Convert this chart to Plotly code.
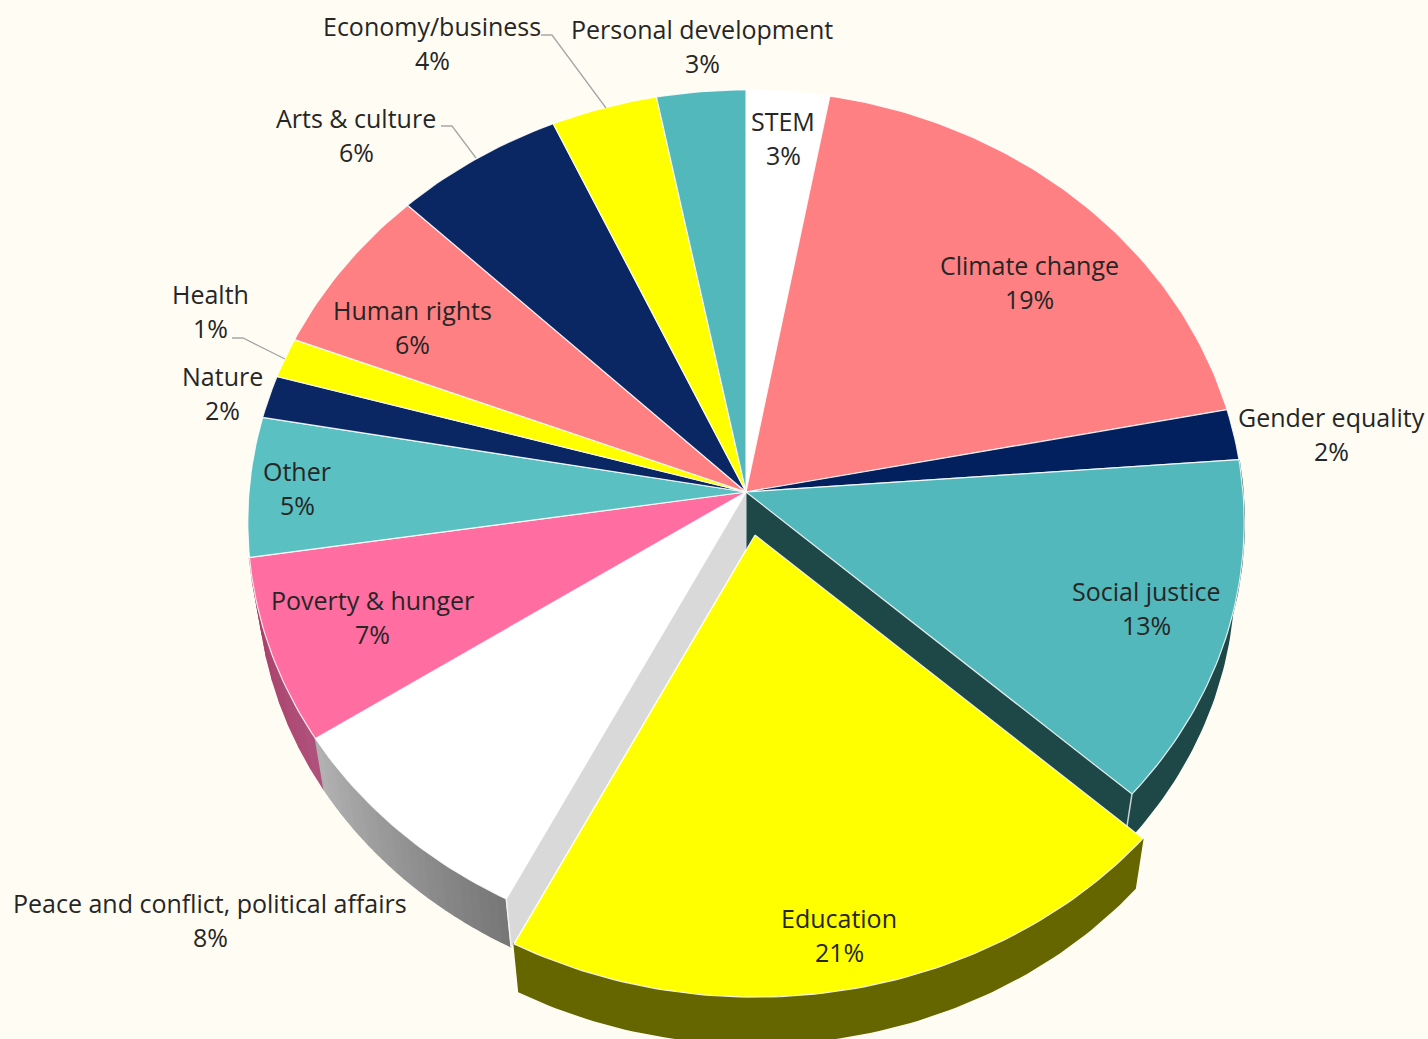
import math
import plotly.graph_objects as go

# ---- data ----
categories = ["STEM", "Climate change", "Gender equality", "Social justice", "Education",
              "Peace and conflict, political affairs", "Poverty & hunger", "Other", "Nature",
              "Health", "Human rights", "Arts & culture", "Economy/business", "Personal development"]
# printed percentages
percent_labels = [3, 19, 2, 13, 21, 8, 7, 5, 2, 1, 6, 6, 4, 3]
# slice shares as measured from the drawn wedges (unrounded estimates)
shares = [2.9, 19.0, 1.9, 12.9, 20.8, 8.2, 6.9, 5.2, 1.6, 1.5, 6.4, 5.9, 3.7, 3.1]

# ---- styles ----
colors = ["#FFFFFF", "#FF8082", "#021F5E", "#52B8BB", "#FFFF00", "#FFFFFF", "#FF6DA1",
          "#5AC0C2", "#0A2663", "#FFFF00", "#FF8082", "#0A2663", "#FFFF00", "#52B8BB"]
BG = "#FFFDF3"
TEXT = "#262626"
FONT = "Open Sans"
FS = 25
LINE = "rgba(255,255,255,0.85)"

# ---- layout geometry ----
W, H = 1428, 1039
CX, CY, RX, RY, KY, KX = 746, 492, 497, 431, 0.067, 0.07
PULL_DX, PULL_DY, PULL_SCALE = 9, 43, 1.005
WALL_SCALE, WALL_DROP = 0.98, 56
EDU, PEACE, POV, SOC = 4, 5, 6, 3

# label centre positions (name line, percent line), screen pixels
label_xy = [(783, 121), (1029, 265), (1331, 417), (1146, 591), (839, 918), (210, 903), (372, 600),
            (297, 471), (222, 376), (210, 294), (412, 310), (356, 118), (432, 26), (702, 29)]
LINE_GAP = 34
leaders = [[(541, 35), (552, 35), (606, 108)],
           [(441, 126), (452, 126), (476, 158)],
           [(232, 338), (243, 338), (285, 359)]]


def project(cum, cx=CX, cy=CY, scale=1.0):
    t = 2 * math.pi * cum / sum(shares)
    c = math.cos(t)
    return (cx + scale * RX * math.sin(t) * (1 - KX * c),
            cy - scale * RY * c * (1 - KY * c))


def arc(a, b, **kw):
    n = max(3, int((b - a) * 4))
    return [project(a + (b - a) * i / n, **kw) for i in range(n + 1)]


def drop(p, cx=CX, cy=CY):
    return cx + WALL_SCALE * (p[0] - cx), cy + WALL_SCALE * (p[1] - cy) + WALL_DROP


def poly(fig, pts, fill, line=None, width=1):
    fig.add_trace(go.Scatter(
        x=[p[0] for p in pts] + [pts[0][0]], y=[p[1] for p in pts] + [pts[0][1]],
        mode="lines", fill="toself", fillcolor=fill,
        line=dict(color=line or fill, width=width), hoverinfo="skip", showlegend=False))


def lerp(c1, c2, f):
    v = [round(c1[i] + (c2[i] - c1[i]) * f) for i in range(3)]
    return f"rgb({v[0]},{v[1]},{v[2]})"


def wall(fig, a, b, c1, c2, steps, **kw):
    cx, cy = kw.get("cx", CX), kw.get("cy", CY)
    for i in range(steps):
        s0, s1 = a + (b - a) * i / steps, a + (b - a) * (i + 1) / steps
        top = arc(s0, s1, **kw)
        bottom = [drop(p, cx, cy) for p in top]
        col = lerp(c1, c2, (i + 0.5) / steps)
        poly(fig, top + bottom[::-1], col, col, 1.5)


starts = [sum(shares[:i]) for i in range(len(shares))]
ends = [sum(shares[:i + 1]) for i in range(len(shares))]
pull = dict(cx=CX + PULL_DX, cy=CY + PULL_DY, scale=PULL_SCALE)

fig = go.Figure()

# side walls
wall(fig, starts[POV], ends[POV], (176, 82, 124), (168, 62, 104), 8)
wall(fig, starts[PEACE], ends[PEACE], (118, 118, 118), (178, 178, 178), 24)
wall(fig, starts[SOC], ends[SOC], (30, 72, 72), (30, 72, 72), 1)

# radial cut faces seen through the gap left by the pulled slice
soc_end = project(ends[SOC])
poly(fig, [(CX, CY), soc_end, drop(soc_end), drop((CX, CY))], "#1E4848")
peace_start = project(starts[PEACE])
poly(fig, [(CX, CY), peace_start, drop(peace_start), drop((CX, CY))], "#D9D9D9")
# corner highlights
fig.add_trace(go.Scatter(x=[soc_end[0], drop(soc_end)[0]], y=[soc_end[1], drop(soc_end)[1]], mode="lines",
                         line=dict(color="#C8D4D4", width=1.5), hoverinfo="skip", showlegend=False))
fig.add_trace(go.Scatter(x=[peace_start[0], drop(peace_start)[0]], y=[peace_start[1], drop(peace_start)[1]],
                         mode="lines", line=dict(color="#F2F2F2", width=1.5), hoverinfo="skip", showlegend=False))

# top faces of the slices that stay in place
for i, name in enumerate(categories):
    if i == EDU:
        continue
    poly(fig, [(CX, CY)] + arc(starts[i], ends[i]), colors[i], LINE, 1.2)

# pulled slice with its wall
wall(fig, starts[EDU], ends[EDU], (102, 102, 0), (102, 102, 0), 1, **pull)
poly(fig, [(pull["cx"], pull["cy"])] + arc(starts[EDU], ends[EDU], **pull), colors[EDU], LINE, 1.2)

# leader lines
for seg in leaders:
    fig.add_trace(go.Scatter(x=[p[0] for p in seg], y=[p[1] for p in seg], mode="lines",
                             line=dict(color="#A6A6A6", width=1.3), hoverinfo="skip", showlegend=False))

# labels
for name, pct, (x, y) in zip(categories, percent_labels, label_xy):
    for txt, yy in ((name, y), (f"{pct}%", y + LINE_GAP)):
        fig.add_annotation(x=x, y=yy, xref="x", yref="y", text=txt, showarrow=False,
                           xanchor="center", yanchor="middle",
                           font=dict(family=FONT, size=FS, color=TEXT))

fig.update_layout(
    width=W, height=H, margin=dict(l=0, r=0, t=0, b=0),
    paper_bgcolor=BG, plot_bgcolor=BG, showlegend=False,
    xaxis=dict(range=[0, W], visible=False, fixedrange=True),
    yaxis=dict(range=[H, 0], visible=False, fixedrange=True),
)
fig.write_html("out.html", config={"displayModeBar": False},
               post_script="document.body.style.margin='0';document.body.style.overflow='hidden';"
                           f"document.body.style.background='{BG}';")
